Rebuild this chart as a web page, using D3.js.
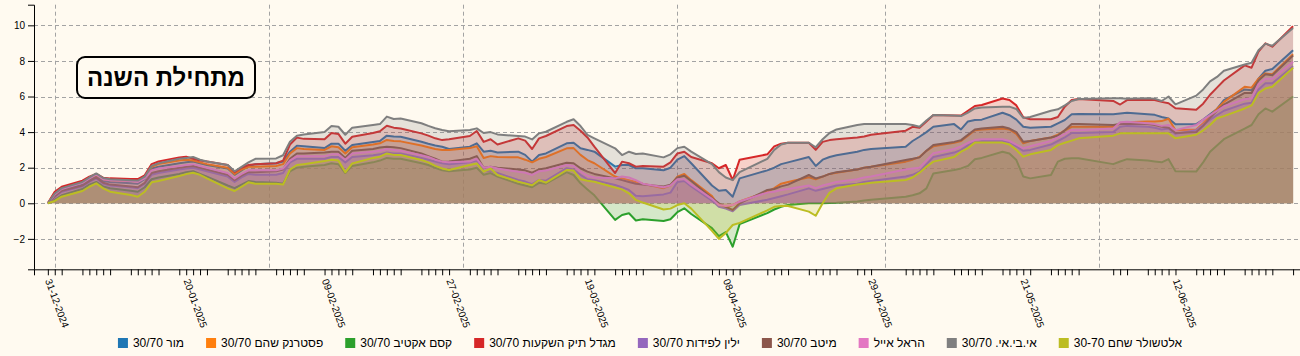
<!DOCTYPE html>
<html><head><meta charset="utf-8">
<script src="https://cdn.jsdelivr.net/npm/d3@7"></script>
<style>
html,body{margin:0;padding:0;background:#fffaf0;}
svg{display:block;font-family:"Liberation Sans",Arial,sans-serif;}
</style></head><body>
<svg id="chart" width="1300" height="356"></svg>
<script>
const dates = ["2024-12-31","2025-01-01","2025-01-02","2025-01-05","2025-01-06","2025-01-07","2025-01-08","2025-01-09","2025-01-12","2025-01-13","2025-01-14","2025-01-15","2025-01-16","2025-01-19","2025-01-20","2025-01-21","2025-01-22","2025-01-23","2025-01-26","2025-01-27","2025-01-28","2025-01-29","2025-01-30","2025-02-02","2025-02-03","2025-02-04","2025-02-05","2025-02-06","2025-02-09","2025-02-10","2025-02-11","2025-02-12","2025-02-13","2025-02-16","2025-02-17","2025-02-18","2025-02-19","2025-02-20","2025-02-23","2025-02-24","2025-02-25","2025-02-26","2025-02-27","2025-03-02","2025-03-03","2025-03-04","2025-03-05","2025-03-06","2025-03-09","2025-03-10","2025-03-11","2025-03-12","2025-03-13","2025-03-16","2025-03-17","2025-03-18","2025-03-19","2025-03-20","2025-03-23","2025-03-24","2025-03-25","2025-03-26","2025-03-27","2025-03-30","2025-03-31","2025-04-01","2025-04-02","2025-04-03","2025-04-06","2025-04-07","2025-04-08","2025-04-09","2025-04-10","2025-04-14","2025-04-15","2025-04-16","2025-04-17","2025-04-20","2025-04-21","2025-04-22","2025-04-23","2025-04-24","2025-04-27","2025-04-28","2025-04-29","2025-05-04","2025-05-05","2025-05-06","2025-05-07","2025-05-08","2025-05-11","2025-05-12","2025-05-13","2025-05-14","2025-05-15","2025-05-18","2025-05-19","2025-05-20","2025-05-21","2025-05-22","2025-05-25","2025-05-26","2025-05-27","2025-05-28","2025-05-29","2025-06-03","2025-06-04","2025-06-05","2025-06-08","2025-06-09","2025-06-10","2025-06-11","2025-06-12","2025-06-15","2025-06-16","2025-06-17","2025-06-18","2025-06-19","2025-06-22","2025-06-23","2025-06-24","2025-06-25","2025-06-26","2025-06-29"];

const xLabelDates = ["2024-12-31","2025-01-20","2025-02-09","2025-02-27","2025-03-19","2025-04-08","2025-04-29","2025-05-21","2025-06-12"];

const seriesNames = ["מור 30/70","פסטרנק שהם 30/70","קסם אקטיב 30/70","מגדל תיק השקעות 30/70","ילין לפידות 30/70","מיטב 30/70","הראל אייל","אי.בי.אי. 30/70","אלטשולר שחם 30-70"];

const mor = [0,.45,.75,1.05,1.3,1.5,1.25,1.2,1.12,1.1,1.35,1.95,2.05,2.25,2.3,2.35,2.25,2.15,1.95,1.6,1.85,2.1,2.2,
 2.25,2.35,2.9,3.24,3.2,3.1,3.35,3.35,2.95,3.27,3.45,3.5,3.8,3.75,3.74,3.46,3.35,3.25,3.18,3.05,
 3.18,3.37,2.9,2.95,2.85,2.9,2.72,2.34,2.71,2.8,3.37,3.4,3.09,3.0,2.9,2.06,2.15,2.15,1.97,1.97,
 1.85,2.0,2.45,2.65,2.25,1.0,0.7,0.75,0.37,1.4,1.85,2.0,2.2,2.3,2.6,2.1,2.45,2.6,2.7,2.9,3.0,3.05,
 3.18,3.5,3.74,4.0,4.3,4.45,4.15,4.6,4.68,4.7,5.09,4.95,4.7,4.3,4.25,4.3,4.49,4.68,5.0,5.02,
 5.0,5.05,5.09,5.0,4.97,4.85,4.77,4.44,4.45,4.7,5.0,5.3,5.8,6.4,6.35,7.0,7.45,7.55,8.6];

const pasternak = [0,.6,.88,1.2,1.42,1.6,1.35,1.3,1.25,1.22,1.45,2.05,2.2,2.4,2.45,2.4,2.3,2.2,2.0,1.65,1.9,2.05,2.05,
 2.1,2.2,2.8,3.1,3.05,3.0,3.2,3.15,2.8,3.15,3.3,3.37,3.56,3.5,3.48,3.25,3.15,3.05,3.0,3.0,
 3.1,3.2,2.55,2.65,2.6,2.58,2.45,2.3,2.5,2.6,3.09,3.1,2.72,2.43,2.25,1.5,1.4,1.3,1.2,1.1,
 0.85,1.0,1.5,1.65,1.3,0.4,-0.15,-0.25,-0.1,0.1,0.65,0.85,1.1,1.2,1.46,1.35,1.5,1.65,1.71,1.9,2.0,2.05,
 2.34,2.45,2.6,2.95,3.2,3.4,3.5,3.8,4.1,4.15,4.2,4.15,3.9,3.37,3.5,3.7,3.85,4.1,4.3,4.3,
 4.3,4.5,4.55,4.6,4.6,4.62,4.75,4.11,4.15,4.5,4.9,5.3,5.7,6.55,6.5,7.0,7.3,7.25,8.37];

const kesem = [0,.2,.45,.8,1.05,1.2,.95,.85,.7,.65,.9,1.35,1.45,1.65,1.75,1.8,1.65,1.5,1.0,.85,1.05,1.25,1.2,
 1.15,1.1,1.8,2.0,2.05,2.15,2.25,2.2,1.7,2.1,2.3,2.4,2.55,2.5,2.5,2.25,2.15,2.0,1.85,1.8,
 1.9,2.0,1.6,1.7,1.5,1.1,1.0,0.9,1.15,1.1,1.75,1.59,1.12,0.78,0.45,-0.93,-0.66,-0.56,-0.97,-0.9,
 -1.0,-0.9,-0.5,-0.28,-0.6,-1.4,-1.85,-1.62,-2.44,-1.17,-0.55,-0.35,-0.2,-0.1,0.0,0.0,0.0,0.02,0.03,0.1,0.15,0.2,
 0.37,0.45,0.56,0.84,1.68,1.87,1.96,2.1,2.47,2.55,2.9,2.8,2.43,1.5,1.4,1.59,2.34,2.5,2.53,2.53,
 2.2,2.35,2.48,2.4,2.35,2.3,2.48,1.8,1.78,2.3,2.9,3.25,3.6,4.2,4.4,5.0,5.33,5.15,6.0];

const migdal = [0,.65,.93,1.27,1.5,1.65,1.44,1.4,1.36,1.36,1.57,2.2,2.35,2.58,2.62,2.5,2.4,2.35,2.15,1.75,2.0,2.15,2.2,
 2.25,2.4,3.3,3.69,3.62,3.6,3.95,3.9,3.35,3.74,3.95,4.05,4.36,4.25,4.2,3.93,3.8,3.65,3.55,3.6,
 3.78,4.06,3.45,3.6,3.3,3.65,3.52,3.05,3.65,3.78,4.34,4.4,4.08,3.7,3.18,1.7,2.34,2.25,2.06,2.1,
 2.06,2.3,2.8,2.9,2.6,2.25,1.97,2.15,1.31,2.45,2.75,3.2,3.35,3.4,3.4,3.0,3.45,3.55,3.6,3.7,3.75,3.85,
 4.08,4.3,4.25,4.6,4.96,4.93,4.93,5.2,5.47,5.52,5.89,5.8,5.5,4.83,4.72,4.72,4.85,5.43,5.8,5.86,
 5.75,5.55,5.8,5.8,5.8,5.7,5.62,5.34,5.26,5.6,6.1,6.5,6.9,7.75,7.62,8.52,8.99,8.8,9.95];

const yelin = [0,.35,.65,.95,1.2,1.4,1.1,1.0,.9,.85,1.1,1.6,1.7,1.9,1.95,2.0,1.9,1.8,1.5,1.2,1.45,1.65,1.6,
 1.6,1.7,2.3,2.5,2.5,2.5,2.6,2.6,2.3,2.6,2.7,2.75,2.85,2.8,2.8,2.55,2.45,2.35,2.25,2.2,
 2.3,2.4,1.8,1.8,1.7,1.31,1.22,1.08,1.31,1.27,1.97,1.9,1.6,1.35,1.3,1.03,0.9,0.75,0.42,0.4,
 0.5,0.6,1.2,1.25,0.95,0.15,-0.2,-0.3,-0.45,-0.1,0.2,0.3,0.4,0.5,0.84,0.7,0.8,0.9,1.0,1.1,1.2,1.25,
 1.5,1.6,1.78,2.2,2.6,2.85,3.0,3.25,3.45,3.5,3.5,3.45,3.2,2.95,3.0,3.3,3.5,3.7,3.95,3.95,
 4.0,4.3,4.35,4.3,4.25,4.15,4.2,3.9,4.1,4.4,4.7,4.95,5.2,5.6,5.65,6.4,6.75,6.75,7.7];

const meitav = [0,.4,.7,1.0,1.25,1.45,1.15,1.05,.95,.9,1.15,1.7,1.8,2.0,2.05,2.1,2.0,1.9,1.6,1.3,1.55,1.75,1.75,
 1.8,1.9,2.5,2.8,2.8,2.86,2.9,2.9,2.55,2.95,3.05,3.13,3.18,3.15,3.1,2.8,2.65,2.5,2.34,2.35,
 2.5,2.65,2.0,2.05,2.0,1.9,1.85,1.72,1.9,1.97,2.28,2.25,1.97,1.78,1.65,1.4,1.3,1.2,1.1,1.05,
 0.95,1.05,1.45,1.55,1.25,0.3,0.0,-0.2,-0.37,0.0,0.75,0.8,0.95,1.05,1.59,1.4,1.5,1.65,1.75,1.9,2.0,2.05,
 2.43,2.5,2.58,2.95,3.27,3.45,3.55,3.85,4.15,4.2,4.3,4.2,4.0,3.46,3.5,3.7,3.8,4.1,4.45,4.45,
 4.4,4.45,4.45,4.45,4.4,4.3,4.25,3.95,4.0,4.35,4.8,5.2,5.55,6.2,6.2,6.9,7.25,7.2,8.3];

const harel = [0,.5,.8,1.15,1.4,1.62,1.35,1.3,1.25,1.2,1.4,1.85,1.95,2.1,2.15,2.2,2.1,2.0,1.7,1.4,1.65,1.85,1.85,
 1.85,1.95,2.4,2.65,2.65,2.65,2.75,2.75,2.45,2.8,2.9,2.95,3.05,3.0,2.95,2.7,2.6,2.45,2.34,2.3,
 2.35,2.5,2.0,2.05,1.95,1.77,1.72,1.59,1.8,1.84,2.15,2.1,1.78,1.55,1.45,1.4,1.5,1.45,1.3,1.1,
 0.9,1.0,1.35,1.35,1.05,0.25,-0.1,-0.15,-0.1,0.1,0.6,0.65,0.75,0.8,1.0,0.85,1.0,1.1,1.2,1.35,1.45,1.5,
 1.9,1.95,2.0,2.4,2.81,3.05,3.2,3.4,3.55,3.6,3.6,3.5,3.3,3.09,3.2,3.5,3.7,3.9,4.12,4.1,
 4.2,4.55,4.58,4.5,4.45,4.35,4.4,4.11,4.4,4.7,4.95,5.2,5.45,5.85,5.9,6.7,7.0,7.0,7.95];

const ibi = [0,.55,.85,1.2,1.45,1.68,1.42,1.35,1.3,1.28,1.5,2.1,2.25,2.5,2.55,2.6,2.45,2.35,2.15,1.8,2.05,2.3,2.5,
 2.52,2.7,3.46,3.8,3.87,4.0,4.34,4.3,3.85,4.25,4.4,4.45,4.87,4.74,4.76,4.5,4.35,4.22,4.12,4.05,
 4.12,4.21,3.95,4.0,3.87,3.78,3.75,3.59,3.93,4.02,4.58,4.72,4.34,3.84,3.65,3.09,2.71,2.9,2.77,2.8,
 2.58,2.75,3.1,3.18,2.9,2.2,1.75,1.45,1.3,1.75,2.5,3.0,3.3,3.4,3.4,3.15,3.6,3.95,4.15,4.4,4.45,4.45,
 4.45,4.4,4.3,4.65,4.96,4.93,4.9,5.1,5.33,5.38,5.43,5.43,5.3,4.8,4.85,5.2,5.28,5.5,5.75,5.86,
 5.9,5.9,5.88,5.9,5.88,5.75,6.0,5.56,6.05,6.4,6.85,7.1,7.45,7.8,7.9,8.6,8.97,8.85,9.85];

const altshuler = [0,.13,.37,.69,.93,1.12,.84,.65,.47,.37,.65,1.18,1.25,1.53,1.64,1.72,1.6,1.4,.84,.69,.93,1.18,1.1,
 1.1,1.05,1.9,2.15,2.2,2.37,2.45,2.4,1.74,2.24,2.55,2.62,2.8,2.72,2.71,2.43,2.3,2.1,1.96,1.87,
 2.15,2.24,1.78,1.95,1.59,1.21,1.12,1.01,1.31,1.16,1.87,1.84,1.35,1.27,1.21,0.89,0.78,0.56,0.19,0.04,
 -0.35,-0.3,-0.1,0.0,-0.3,-1.55,-2.0,-1.67,-1.22,-1.1,-0.4,-0.2,-0.15,-0.15,-0.47,-0.7,0.0,0.6,0.84,1.05,1.1,1.15,
 1.31,1.45,1.72,2.05,2.34,2.6,2.9,3.1,3.41,3.41,3.41,3.3,3.0,2.62,2.75,3.0,3.27,3.4,3.52,3.65,
 3.8,3.93,3.93,3.93,3.93,3.93,3.93,3.65,3.85,4.1,4.4,4.78,4.9,5.33,5.5,6.2,6.45,6.55,7.62];

const seriesValues = [mor, pasternak, kesem, migdal, yelin, meitav, harel, ibi, altshuler];
const titleText = "מתחילת השנה";

const svg = d3.select("#chart");
const W = 1300, H = 356;
svg.append("rect").attr("width", W).attr("height", H).attr("fill", "#fffaf0");

const parse = d3.timeParse("%Y-%m-%d");
const fmt = d3.timeFormat("%d-%m-%Y");
const xDates = dates.map(parse);
const labelSet = new Set(xLabelDates);
const color = d3.scaleOrdinal().domain(seriesNames).range(d3.schemeCategory10);

const x = d3.scaleTime().domain([new Date(2024, 11, 29), new Date(2025, 5, 30)]).range([34, 1300]);
const y = d3.scaleLinear().domain([-3.71, 11.16]).range([269.3, 4.7]);

// grid
const grid = svg.append("g").attr("stroke", "#a3a3a3").attr("stroke-dasharray", "4,3").attr("stroke-width", 1);
grid.selectAll("line.h").data(y.ticks()).join("line").attr("class", "h")
  .attr("x1", 34).attr("x2", 1300).attr("y1", d => Math.round(y(d)) + 0.5).attr("y2", d => Math.round(y(d)) + 0.5);
grid.selectAll("line.v").data(d3.timeMonth.range(new Date(2025, 0, 1), new Date(2025, 5, 30))).join("line").attr("class", "v")
  .attr("y1", 4.7).attr("y2", 269.3).attr("x1", d => Math.round(x(d)) + 0.5).attr("x2", d => Math.round(x(d)) + 0.5);

const area = d3.area().x((d, i) => x(xDates[i])).y0(y(0)).y1(d => y(d));
const line = d3.line().x((d, i) => x(xDates[i])).y(d => y(d));

const plot = svg.append("g");
seriesNames.forEach((name, k) => {
  const vals = seriesValues[k];
  plot.append("path").attr("d", area(vals)).attr("fill", color(name)).attr("fill-opacity", 0.2);
  plot.append("path").attr("d", line(vals)).attr("fill", "none").attr("stroke", color(name))
    .attr("stroke-width", 2).attr("stroke-linejoin", "round");
});

// axes
const yAxis = svg.append("g").attr("transform", "translate(34,0)").call(d3.axisLeft(y).tickSize(6));
yAxis.selectAll("text").attr("font-size", 10).attr("fill", "#000").attr("font-family", "Liberation Sans, Arial, sans-serif");

const xAxis = svg.append("g").attr("transform", "translate(0,269.3)")
  .call(d3.axisBottom(x).tickValues(xDates).tickSize(6)
    .tickFormat(d => labelSet.has(d3.timeFormat("%Y-%m-%d")(d)) ? fmt(d) : ""));
xAxis.selectAll("text").attr("font-size", 10).attr("fill", "#000")
  .attr("font-family", "Liberation Sans, Arial, sans-serif")
  .attr("text-anchor", "start").attr("x", 0).attr("y", 0).attr("dy", "0.35em")
  .attr("transform", "translate(0,10) rotate(70)");

// title box
const tb = svg.append("g");
tb.append("rect").attr("x", 77).attr("y", 57).attr("width", 178).attr("height", 41).attr("rx", 8)
  .attr("fill", "#fffaf0").attr("stroke", "#000").attr("stroke-width", 2);
tb.append("text").attr("x", 166).attr("y", 78).attr("dy", "0.35em").attr("text-anchor", "middle")
  .attr("font-size", 24).attr("font-weight", "bold").attr("fill", "#000").text(titleText);

// legend
const lg = svg.append("g");
const items = [];
seriesNames.forEach(name => {
  const g = lg.append("g");
  g.append("rect").attr("width", 10).attr("height", 10).attr("y", -5).attr("fill", color(name));
  const t = g.append("text").attr("x", 15).attr("dy", "0.35em").attr("font-size", 12).attr("fill", "#000").text(name);
  items.push({g, w: 15 + t.node().getComputedTextLength()});
});
const gap = 22;
const total = d3.sum(items, d => d.w) + gap * (items.length - 1);
let cx = 650 - total / 2;
items.forEach(it => { it.g.attr("transform", `translate(${cx},343)`); cx += it.w + gap; });
</script>
</body></html>
